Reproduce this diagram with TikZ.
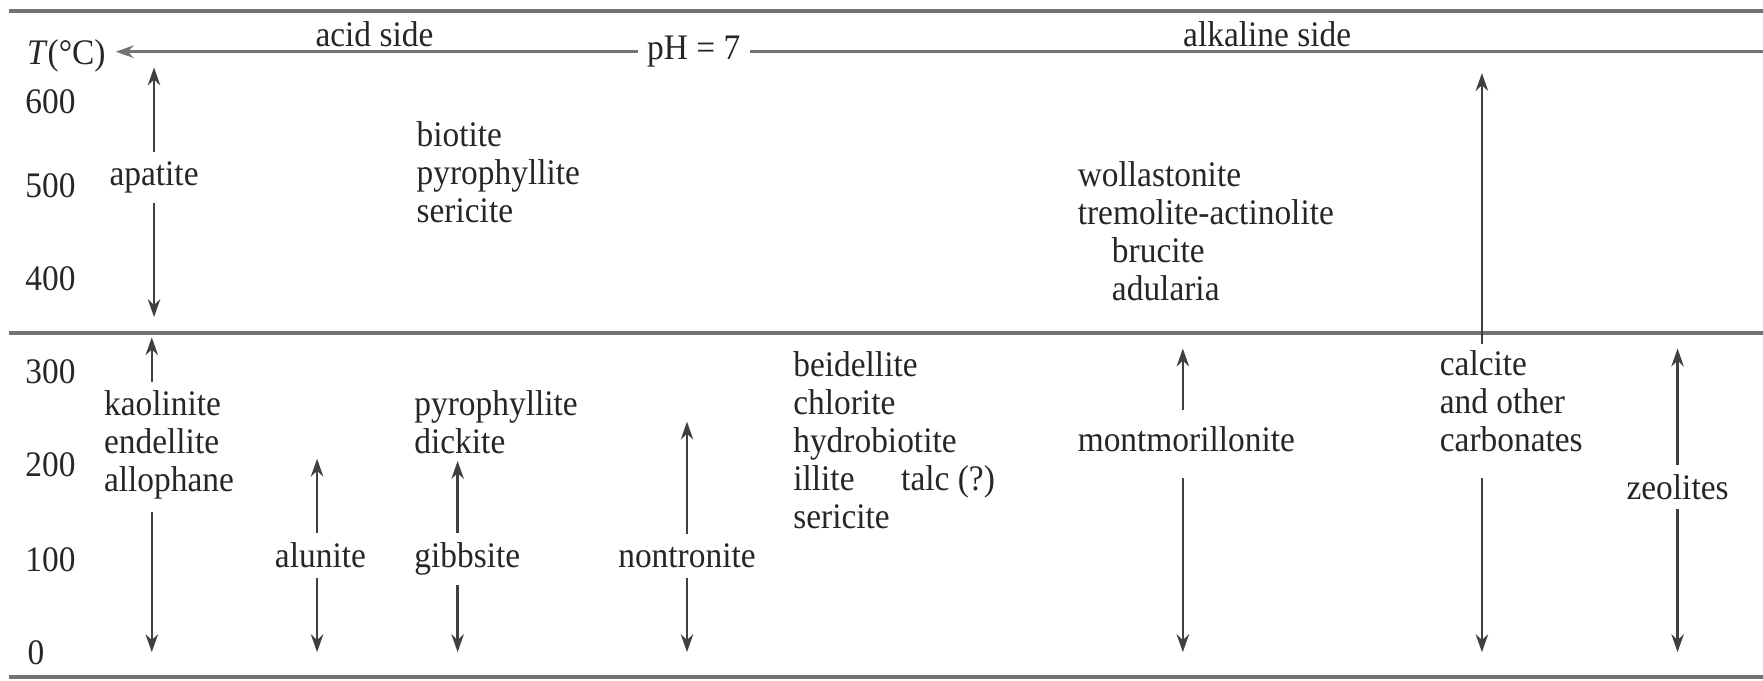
\documentclass[tikz,border=0pt]{standalone}
\usepackage{fontspec}
\setmainfont{Liberation Serif}[FakeStretch=0.93]
\usetikzlibrary{arrows.meta, positioning}

\begin{document}
\begin{tikzpicture}[x=0.012368cm, y=-0.012368cm,
    txt/.style={font=\fontsize{11.25}{11.9}\selectfont, inner sep=0pt, text=black!85},
    lab/.style={txt, inner sep=2.8pt},
    list/.style={txt, align=left, anchor=north west},
    tick/.style={txt, anchor=base west},
    arr/.style={-{Stealth[length=5.6pt, width=3.9pt]}, line width=0.75pt, draw=black!75},
    rule/.style={line width=1.1pt, draw=black!55}
    ]
    \useasboundingbox (0,0) rectangle (1568,605);

    % rules
    \draw[rule] (8,10) -- (1568,10);
    \draw[rule] (8,296) -- (1568,296);
    \draw[rule] (8,602) -- (1568,602);

    % pH axis
    \node[txt, anchor=base west, inner xsep=3pt] (T) at (15,57) {\textit{T}(°C)};
    \node[txt, inner xsep=2.8pt] (ph) at (617,46) {pH = 7};
    \coordinate (phR) at (1568,46);
    \draw[arr, line width=1.1pt, draw=black!55] (ph.west) -- (T.east |- ph.west);
    \draw[rule] (ph.east) -- (phR);
    \node[txt] (acid) at (333,30) {acid side};
    \node[txt] (alk) at (1127,30) {alkaline side};

    % temperatures
    \node[tick] (t600) at (22,101) {600};
    \node[tick] (t500) at (22,176) {500};
    \node[tick] (t400) at (22,258) {400};
    \node[tick] (t300) at (22,341) {300};
    \node[tick] (t200) at (22,424) {200};
    \node[tick] (t100) at (22,508) {100};
    \node[tick] (t0) at (24,591) {0};

    % 高温带
    \node[lab] (apatite) at (137,158) {apatite};
    \coordinate (apTop) at (137,60);
    \coordinate (apBot) at (137,282);
    \draw[arr] (apatite) -- (apTop);
    \draw[arr] (apatite) -- (apBot);

    \node[list] (biotite) at (370,108) {biotite\\pyrophyllite\\sericite};
    \node[list] (wollast) at (958,143)
        {wollastonite\\tremolite-actinolite\\\hspace{10.7pt}brucite\\\hspace{10.7pt}adularia};

    \coordinate (caTop) at (1318,65);
    \coordinate (caMid) at (1318,306);
    \draw[arr] (caMid) -- (caTop);

    % 低温带
    \node[list] (kaolin) at (92,347) {kaolinite\\endellite\\allophane};
    \coordinate (kaTop) at (135,300);
    \coordinate (kaUp) at (135,340);
    \coordinate (kaDn) at (135,455);
    \coordinate (kaBot) at (135,580);
    \draw[arr] (kaUp) -- (kaTop);
    \draw[arr] (kaDn) -- (kaBot);

    \node[lab, anchor=base] (alunite) at (285,505) {alunite};
    \coordinate (alTop) at (282,408);
    \coordinate (alBot) at (282,580);
    \draw[arr] (alTop |- alunite.north) -- (alTop);
    \draw[arr] (alBot |- alunite.south) -- (alBot);

    \node[list] (pyro) at (368,347) {pyrophyllite\\dickite};
    \node[lab, anchor=base west, inner xsep=0pt] (gibbsite) at (368,505) {gibbsite};
    \coordinate (giTop) at (407,410);
    \coordinate (giBot) at (407,580);
    \draw[arr] (giTop |- gibbsite.north) -- (giTop);
    \draw[arr] (giBot |- gibbsite.south) -- (giBot);

    \node[lab, anchor=base] (nontron) at (611,505) {nontronite};
    \coordinate (noTop) at (611,375);
    \coordinate (noBot) at (611,580);
    \draw[arr] (noTop |- nontron.north) -- (noTop);
    \draw[arr] (noBot |- nontron.south) -- (noBot);

    \node[list] (beidel) at (705,312)
        {beidellite\\chlorite\\hydrobiotite\\illite\hspace{14.6pt}talc (?)\\sericite};

    \node[tick] (montm) at (958,402) {montmorillonite};
    \coordinate (moTop) at (1052,310);
    \coordinate (moUp) at (1052,365);
    \coordinate (moDn) at (1052,425);
    \coordinate (moBot) at (1052,580);
    \draw[arr] (moUp) -- (moTop);
    \draw[arr] (moDn) -- (moBot);

    \node[list] (calcite) at (1280,311) {calcite\\and other\\carbonates};
    \coordinate (caDn) at (1318,425);
    \coordinate (caBot) at (1318,580);
    \draw[arr] (caDn) -- (caBot);

    \node[lab, anchor=base] (zeol) at (1492,444) {zeolites};
    \coordinate (zeTop) at (1492,310);
    \coordinate (zeBot) at (1492,580);
    \draw[arr] (zeol.north) -- (zeTop);
    \draw[arr] (zeol.south) -- (zeBot);
\end{tikzpicture}
\end{document}
